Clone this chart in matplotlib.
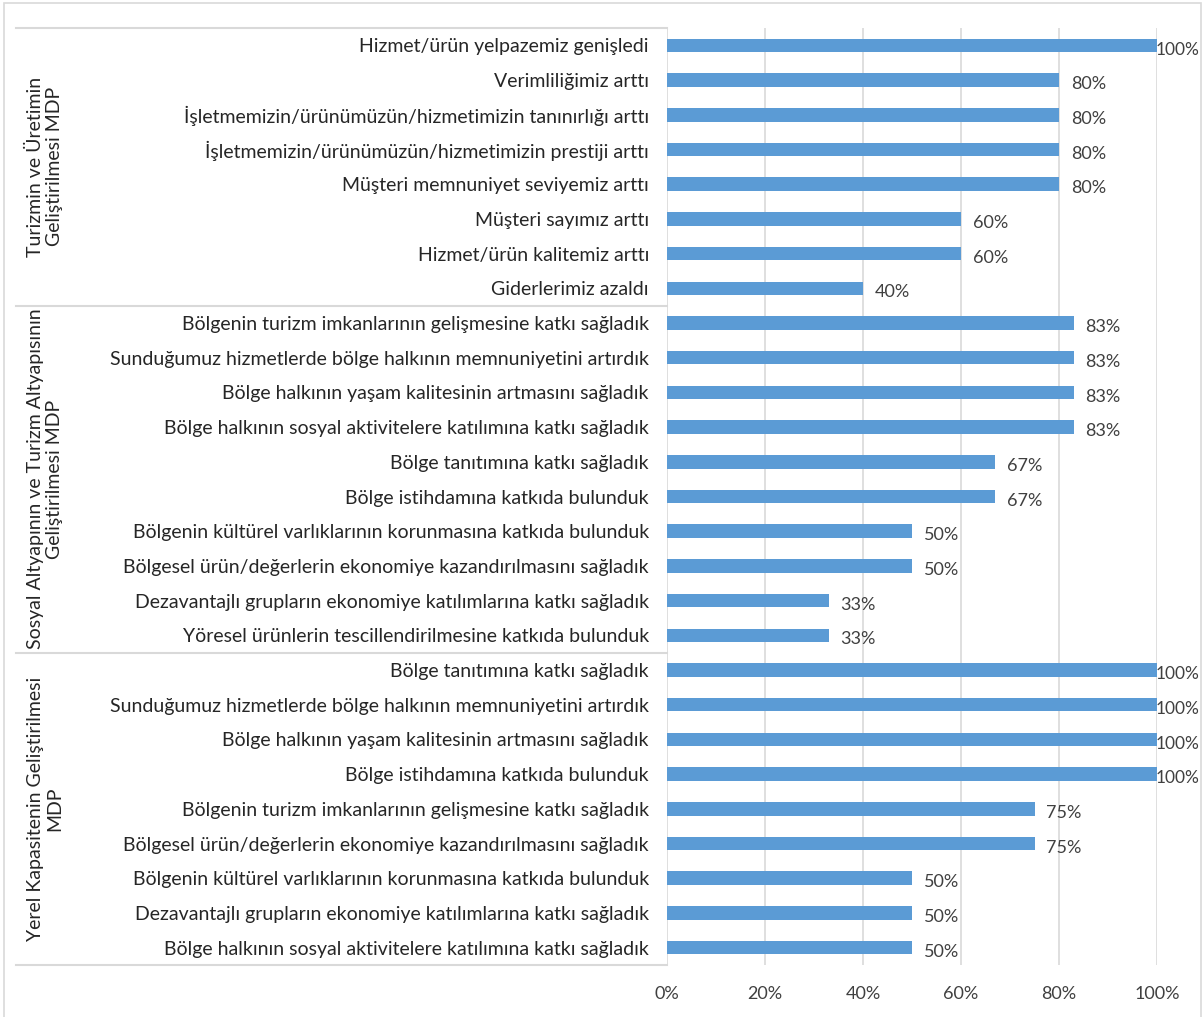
import matplotlib.pyplot as plt
from matplotlib.patches import Rectangle
from matplotlib.lines import Line2D
from matplotlib.transforms import blended_transform_factory

plt.rcParams['font.family'] = ['Lato', 'DejaVu Sans']

# Data (top to bottom)
group1_labels = [
    "Hizmet/ürün yelpazemiz genişledi",
    "Verimliliğimiz arttı",
    "İşletmemizin/ürünümüzün/hizmetimizin tanınırlığı arttı",
    "İşletmemizin/ürünümüzün/hizmetimizin prestiji arttı",
    "Müşteri memnuniyet seviyemiz arttı",
    "Müşteri sayımız arttı",
    "Hizmet/ürün kalitemiz arttı",
    "Giderlerimiz azaldı",
]
group1_values = [100, 80, 80, 80, 80, 60, 60, 40]

group2_labels = [
    "Bölgenin turizm imkanlarının gelişmesine katkı sağladık",
    "Sunduğumuz hizmetlerde bölge halkının memnuniyetini artırdık",
    "Bölge halkının yaşam kalitesinin artmasını sağladık",
    "Bölge halkının sosyal aktivitelere katılımına katkı sağladık",
    "Bölge tanıtımına katkı sağladık",
    "Bölge istihdamına katkıda bulunduk",
    "Bölgenin kültürel varlıklarının korunmasına katkıda bulunduk",
    "Bölgesel ürün/değerlerin ekonomiye kazandırılmasını sağladık",
    "Dezavantajlı grupların ekonomiye katılımlarına katkı sağladık",
    "Yöresel ürünlerin tescillendirilmesine katkıda bulunduk",
]
group2_values = [83, 83, 83, 83, 67, 67, 50, 50, 33, 33]

group3_labels = [
    "Bölge tanıtımına katkı sağladık",
    "Sunduğumuz hizmetlerde bölge halkının memnuniyetini artırdık",
    "Bölge halkının yaşam kalitesinin artmasını sağladık",
    "Bölge istihdamına katkıda bulunduk",
    "Bölgenin turizm imkanlarının gelişmesine katkı sağladık",
    "Bölgesel ürün/değerlerin ekonomiye kazandırılmasını sağladık",
    "Bölgenin kültürel varlıklarının korunmasına katkıda bulunduk",
    "Dezavantajlı grupların ekonomiye katılımlarına katkı sağladık",
    "Bölge halkının sosyal aktivitelere katılımına katkı sağladık",
]
group3_values = [100, 100, 100, 100, 75, 75, 50, 50, 50]

group_names = [
    "Turizmin ve Üretimin\nGeliştirilmesi MDP",
    "Sosyal Altyapının ve Turizm Altyapısının\nGeliştirilmesi MDP",
    "Yerel Kapasitenin Geliştirilmesi\nMDP",
]

groups = [(group1_labels, group1_values), (group2_labels, group2_values),
          (group3_labels, group3_values)]
labels = group1_labels + group2_labels + group3_labels
values = group1_values + group2_values + group3_values
ypos = list(range(len(labels)))

W, H = 1204, 1017
fig = plt.figure(figsize=(W / 100, H / 100), dpi=100)

# outer chart border
fig.patches.append(Rectangle((4 / W, -0.01), 1197 / W, 1 - 3 / H + 0.01,
                             transform=fig.transFigure, fill=False,
                             edgecolor='#D9D9D9', linewidth=1.2))

ax = fig.add_axes([667 / W, 1 - 965 / H, 490 / W, 937 / H])
bar_color = '#5B9BD5'
ax.barh(ypos, values, height=0.39, color=bar_color, zorder=3)
ax.set_ylim(len(labels) - 0.5, -0.5)
ax.set_xlim(0, 100)
ax.set_xticks([0, 20, 40, 60, 80, 100])
ax.set_xticklabels([f"{t}%" for t in [0, 20, 40, 60, 80, 100]],
                   fontsize=13, color='#404040')
ax.set_yticks(ypos)
ax.set_yticklabels(labels, fontsize=14, color='#262626')
ax.tick_params(axis='y', length=0, pad=13)
ax.tick_params(axis='x', length=0, pad=15)
ax.grid(axis='x', color='#D9D9D9', linewidth=1.2, zorder=0)
for s in ax.spines.values():
    s.set_visible(False)

# data labels; the 100% ones are squeezed against the bar end like in Excel
for y, v in zip(ypos, values):
    x = v - 0.3 if v >= 100 else v + 2.4
    ax.text(x, y + 0.12, f"{v}%", va='center', ha='left',
            fontsize=12.5 if v >= 100 else 13, color='#404040',
            zorder=4, clip_on=False)

# group separators and group labels
trans = blended_transform_factory(fig.transFigure, ax.transData)
start = 0
bounds = [-0.5]
for lbls, _ in groups:
    start += len(lbls)
    bounds.append(start - 0.5)
for b in bounds:
    fig.add_artist(Line2D([16 / W, 667 / W], [b, b], transform=trans,
                          color='#D9D9D9', linewidth=1.5, clip_on=False))
for i, name in enumerate(group_names):
    mid = (bounds[i] + bounds[i + 1]) / 2
    fig.text(45 / W, mid, name, transform=trans, rotation=90,
             ha='center', va='center', fontsize=14, color='#262626',
             multialignment='center', linespacing=1.15)

fig.savefig('out.png', dpi=100)
